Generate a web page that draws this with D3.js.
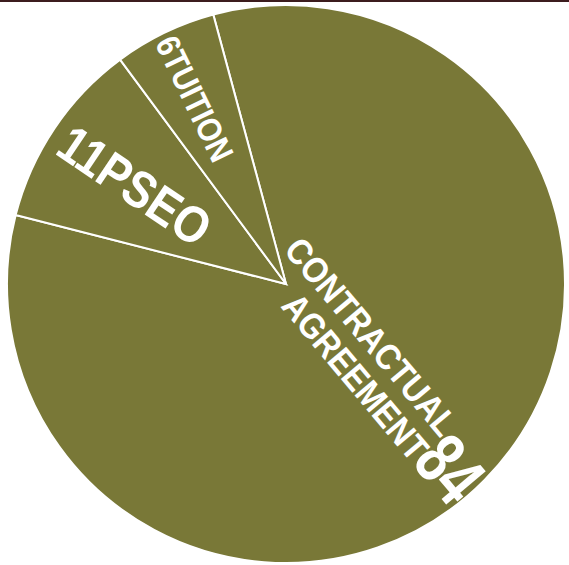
<!DOCTYPE html>
<html>
<head>
<meta charset="utf-8">
<script src="https://cdn.jsdelivr.net/npm/d3@7"></script>
<style>
  html, body { margin: 0; padding: 0; background: #ffffff; }
  svg { display: block; }
  text { font-family: "Liberation Sans", Arial, Helvetica, sans-serif; font-weight: bold; fill: #ffffff; }
</style>
</head>
<body>
<div id="chart"></div>
<script>
// ---- data ----
const categories = ["CONTRACTUAL AGREEMENT", "PSEO", "TUITION"];
const values = [84, 11, 6];
const labelLines = [["CONTRACTUAL", "AGREEMENT"], ["PSEO"], ["TUITION"]];

// ---- layout / style ----
const W = 569, H = 565;
const cx = 286, cy = 284, R = 279;
const startDeg = -15.1;
const sliceColor = "#797837";
const labelSize = [36, 52, 34];
const labelScale = [0.89, 0.86, 0.87];   // condensed look of the original typeface
const valueSize = [75, 52, 34];
const valueScale = [0.72, 0.86, 0.87];
const angleTweak = [5.4, 0, 0];
const baseline = [19, 21, 13.5];
const rimGap = [2, 13, 5];

const svg = d3.select("#chart").append("svg").attr("width", W).attr("height", H);

svg.append("rect").attr("x", 0).attr("y", 0).attr("width", W).attr("height", 2).attr("fill", "#3c1c1e");

const data = categories.map((c, i) => ({ cat: c, value: values[i], lines: labelLines[i], i }));

const pie = d3.pie().value(d => d.value).sort(null)
  .startAngle(startDeg * Math.PI / 180)
  .endAngle(startDeg * Math.PI / 180 + 2 * Math.PI);
const arcs = pie(data);
const arc = d3.arc().innerRadius(0).outerRadius(R);

const g = svg.append("g").attr("transform", `translate(${cx},${cy})`);

g.selectAll("path.slice").data(arcs).enter().append("path")
  .attr("class", "slice")
  .attr("d", arc)
  .attr("fill", sliceColor)
  .attr("stroke", "#ffffff")
  .attr("stroke-width", 2)
  .attr("stroke-linejoin", "miter");

arcs.forEach(a => {
  const d = a.data, i = d.i;
  const midDeg = ((a.startAngle + a.endAngle) / 2) * 180 / Math.PI;
  const norm = ((midDeg % 360) + 360) % 360;
  const rightSide = norm < 180;
  if (rightSide) {
    // label block (right aligned) then value, reading outward; value ends at the rim
    const rot = norm - 90 + angleTweak[i];
    const lh = 38;
    const n = d.lines.length;
    const lgV = g.append("g").attr("transform", `rotate(${rot}) scale(${valueScale[i]},1)`);
    const vt = lgV.append("text")
      .attr("x", (R - rimGap[i]) / valueScale[i]).attr("y", baseline[i])
      .attr("text-anchor", "end")
      .attr("font-size", valueSize[i])
      .text(d.value);
    const vw = vt.node().getComputedTextLength() * valueScale[i];
    const labelEnd = R - rimGap[i] - vw + 1;
    const lgL = g.append("g").attr("transform", `rotate(${rot}) scale(${labelScale[i]},1)`);
    const block = lgL.append("text").attr("text-anchor", "end").attr("font-size", labelSize[i]);
    d.lines.forEach((ln, k) => {
      block.append("tspan")
        .attr("x", labelEnd / labelScale[i])
        .attr("y", baseline[i] - (n - 1 - k) * lh)
        .text(ln);
    });
  } else {
    // value at the rim, then label, reading inward
    const rot = norm - 270 + angleTweak[i];
    const lg = g.append("g").attr("transform", `rotate(${rot}) scale(${labelScale[i]},1)`);
    const t = lg.append("text")
      .attr("x", -(R - rimGap[i]) / labelScale[i]).attr("y", baseline[i])
      .attr("text-anchor", "start")
      .attr("font-size", labelSize[i]);
    t.append("tspan").attr("font-size", valueSize[i]).text(d.value);
    t.append("tspan").text(d.lines.join(""));
  }
});
</script>
</body>
</html>
